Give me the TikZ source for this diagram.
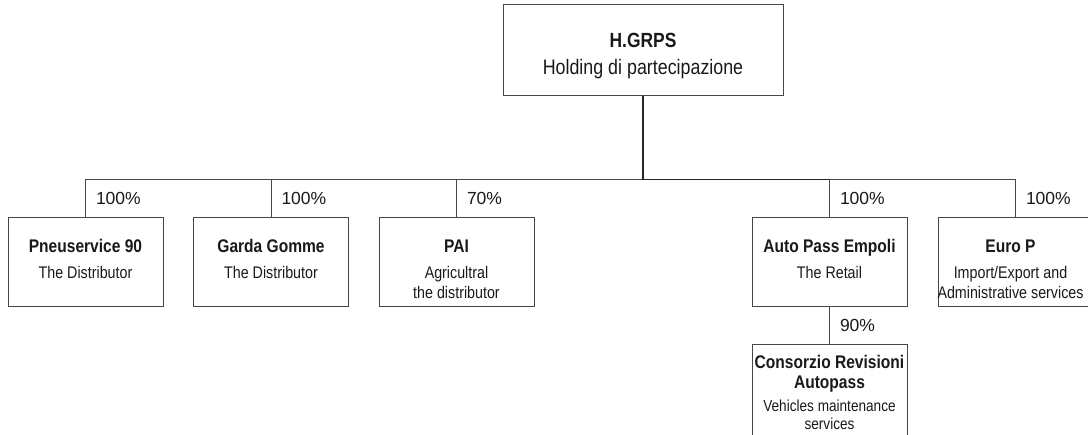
\documentclass[tikz,border=0pt]{standalone}
\usepackage{fontspec}
\setmainfont{Liberation Sans}
\newfontfamily\orgcondensed{Liberation Sans}[FakeStretch=0.85]
\usetikzlibrary{positioning}

\newcommand{\orgtitlefont}{\orgcondensed\fontsize{18.3}{20}\selectfont\bfseries}
\newcommand{\orgsubfont}{\orgcondensed\fontsize{16.8}{20}\selectfont}
\newcommand{\orgsmallfont}{\orgcondensed\fontsize{16}{18}\selectfont}
\newcommand{\orgpctfont}{\fontsize{17.5}{20}\selectfont}
\newcommand{\orgstrut}{\rule{0pt}{14pt}}
\newcommand{\unitnode}[1][]{\node[unit,#1]}

\tikzstyle{orgchartoptions}=[
    x=1pt,y=-1pt,
    color=black!72,
    every path/.append style={line width=1pt},
    every node/.append style={inner sep=0pt,text=black!90}
]
\tikzstyle{unit}=[
    rectangle,
    draw,
    minimum width=155pt,
    minimum height=89pt
]
\tikzstyle{unittext}=[
    draw=none,
    align=center,
    anchor=north,
    font=\orgsubfont
]
\tikzstyle{pct}=[
    draw=none,
    midway,
    anchor=west,
    xshift=10pt,
    font=\orgpctfont
]
\tikzstyle{trunk}=[
    line width=1.8pt,
    draw=black!85
]

\begin{document}
\begin{tikzpicture}[orgchartoptions]
    \useasboundingbox (0,0) rectangle (1088,435);

    % nodes
    \unitnode[minimum width=280pt,minimum height=91pt] (hgrps) at (643,50.5) {};
    \unitnode (pneu) at (85.5,262) {};
    \unitnode (garda) at (271,262) {};
    \unitnode (pai) at (456.5,262) {};
    \unitnode (auto) at (829.5,262) {};
    \unitnode (euro) at (1015.5,262) {};
    \unitnode[minimum height=100pt] (cons) at (829.5,395) {};

    % texts
    \node[unittext,below=27.5pt of hgrps.north,font=\orgcondensed\fontsize{21}{27.5}\selectfont]
        {\orgcondensed\fontsize{20.5}{27.5}\selectfont\bfseries\rule{0pt}{15pt}H.GRPS\\Holding di partecipazione};
    \node[unittext,below=21pt of pneu.north] {\orgtitlefont\orgstrut Pneuservice 90\\[6pt]
        The Distributor};
    \node[unittext,below=21pt of garda.north] {\orgtitlefont\orgstrut Garda Gomme\\[6pt]
        The Distributor};
    \node[unittext,below=21pt of pai.north] {\orgtitlefont\orgstrut PAI\\[6pt]
        Agricultral\\the distributor};
    \node[unittext,below=21pt of auto.north] {\orgtitlefont\orgstrut Auto Pass Empoli\\[6pt]
        The Retail};
    \node[unittext,below=21pt of euro.north,xshift=-5pt] {\orgtitlefont\orgstrut Euro P\\[6pt]
        Import/Export and\\Administrative services};
    \node[unittext,below=9.5pt of cons.north,font=\orgsmallfont]
        {\orgtitlefont\orgstrut Consorzio Revisioni\\[2.5pt]\orgtitlefont Autopass\\[5pt]
        Vehicles maintenance\\services};

    % edges
    \coordinate (bus) at (643,179.5);
    \draw (pneu.north |- bus) -- (euro.north |- bus);
    \draw[trunk] (hgrps) -- (bus) -- (auto.north |- bus);

    \draw (pneu.north |- bus) -- node[pct] {100\%} (pneu);
    \draw (garda.north |- bus) -- node[pct] {100\%} (garda);
    \draw (pai.north |- bus) -- node[pct] {70\%} (pai);
    \draw (auto.north |- bus) -- node[pct] {100\%} (auto);
    \draw (euro.north |- bus) -- node[pct] {100\%} (euro);
    \draw (auto) -- node[pct] {90\%} (cons);
\end{tikzpicture}
\end{document}
